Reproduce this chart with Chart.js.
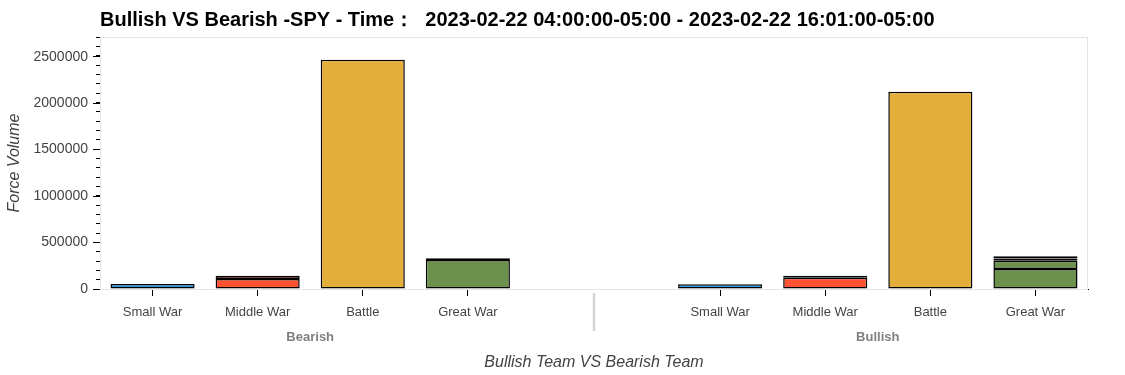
<!DOCTYPE html>
<html>
<head>
<meta charset="utf-8">
<script src="https://cdn.jsdelivr.net/npm/chart.js@4.4.0/dist/chart.umd.min.js"></script>
<style>
    html, body { margin: 0; padding: 0; background: #FFFFFF; }
    #wrap { width: 1125px; height: 375px; }
</style>
</head>
<body>
<div id="wrap"><canvas id="chart" width="1125" height="375"></canvas></div>
<script>
/* Bullish VS Bearish — stacked force volume per war size */

const TITLE = 'Bullish VS Bearish -SPY - Time：  2023-02-22 04:00:00-05:00 - 2023-02-22 16:01:00-05:00';

const groups = ['Bearish', 'Bullish'];
const categories = ['Small War', 'Middle War', 'Battle', 'Great War',
                    'Small War', 'Middle War', 'Battle', 'Great War'];

// stacked segments, bottom to top (null = no segment)
const layer1 = [54000, 108000, 2468000, 312000, 51000, 122000, 2123000, 216000];
const layer2 = [null, 35000, null, 19000, null, 21000, null, 89000];
const layer3 = [null, null, null, null, null, null, null, 22000];
const layer4 = [null, null, null, null, null, null, null, 25000];

const yTicks = [0, 500000, 1000000, 1500000, 2000000, 2500000];
const yMax = 2712000;

const Colors = {
    war: ['#2B9FD8', '#FF5233', '#E3AE3A', '#6C914D'],
    text: '#444444',
    group: '#7F7F7F',
    outline: '#E5E5E5',
    separator: '#D4D4D4',
};

const FONT = '"Liberation Sans", Arial, Helvetica, sans-serif';

// nested factor layout: 4 bars, group padding 1.4, 4 bars
const GROUP_PAD = 1.4;
const positions = categories.map((_, i) => i < 4 ? i + 0.5 : i + 0.5 + GROUP_PAD);
const groupCenters = [2, 6 + GROUP_PAD];
const separatorAt = 4 + GROUP_PAD / 2;
const xMax = 8 + GROUP_PAD;

function toPoints(values) {
    return values.map((v, i) => ({ x: positions[i], y: v }));
}

function layerDataset(values) {
    return {
        data: toPoints(values),
        backgroundColor: positions.map((_, i) => Colors.war[i % 4]),
        borderColor: '#000000',
        borderWidth: 1.5,
        borderSkipped: false,
        barPercentage: 0.8,
        categoryPercentage: 1.0,
    };
}

const framePlugin = {
    id: 'frame',
    beforeDatasetsDraw(chart) {
        const { ctx, chartArea } = chart;
        ctx.save();
        ctx.strokeStyle = Colors.outline;
        ctx.lineWidth = 1;
        ctx.strokeRect(chartArea.left + 0.5, chartArea.top + 0.5,
            chartArea.right - chartArea.left - 1, chartArea.bottom - chartArea.top);
        ctx.restore();
    },
    afterDraw(chart) {
        const { ctx, chartArea } = chart;
        const x = Math.round(chart.scales.x.getPixelForValue(separatorAt));
        ctx.save();
        ctx.strokeStyle = Colors.separator;
        ctx.lineWidth = 2.5;
        ctx.beginPath();
        ctx.moveTo(x, chartArea.bottom + 4);
        ctx.lineTo(x, chartArea.bottom + 42);
        ctx.stroke();
        ctx.restore();
    },
};

new Chart(document.getElementById('chart'), {
    type: 'bar',
    data: {
        datasets: [layer1, layer2, layer3, layer4].map(layerDataset),
    },
    options: {
        responsive: false,
        animation: false,
        layout: { padding: { left: 0, right: 37, top: 0, bottom: 0 } },
        plugins: {
            legend: { display: false },
            tooltip: { enabled: false },
            title: {
                display: true,
                text: TITLE,
                align: 'start',
                fullSize: false,
                color: '#000000',
                font: { family: FONT, size: 20, weight: 'bold' },
                padding: { top: 8, bottom: 5 },
            },
        },
        scales: {
            x: {
                type: 'linear',
                stacked: true,
                offset: false,
                min: 0,
                max: xMax,
                weight: 0,
                afterBuildTicks: (scale) => { scale.ticks = positions.map((v) => ({ value: v })); },
                afterFit: (scale) => { scale.height = 28; },
                ticks: {
                    autoSkip: false,
                    maxRotation: 0,
                    padding: 9,
                    color: Colors.text,
                    font: { family: FONT, size: 13 },
                    callback: (v, i) => categories[i],
                },
                grid: { offset: false, drawOnChartArea: false, tickLength: 7, tickColor: '#000000' },
                border: { color: '#000000' },
            },
            x2: {
                type: 'linear',
                position: 'bottom',
                offset: false,
                min: 0,
                max: xMax,
                weight: 1,
                afterBuildTicks: (scale) => { scale.ticks = groupCenters.map((v) => ({ value: v })); },
                afterFit: (scale) => { scale.height = 58; },
                ticks: {
                    autoSkip: false,
                    maxRotation: 0,
                    padding: 13,
                    color: Colors.group,
                    font: { family: FONT, size: 13, weight: 'bold' },
                    callback: (v, i) => groups[i],
                },
                grid: { display: false, drawTicks: false },
                border: { display: false },
                title: {
                    display: true,
                    text: 'Bullish Team VS Bearish Team',
                    color: Colors.text,
                    font: { family: FONT, size: 16, style: 'italic' },
                    padding: { top: 3, bottom: 3 },
                },
            },
            y: {
                stacked: true,
                min: 0,
                max: yMax,
                weight: 1,
                afterBuildTicks: (scale) => { scale.ticks = yTicks.map((v) => ({ value: v })); },
                afterFit: (scale) => { scale.width = 100; },
                ticks: {
                    padding: 5,
                    color: Colors.text,
                    font: { family: FONT, size: 14 },
                    callback: (v) => String(v),
                },
                grid: { drawOnChartArea: false, tickLength: 7, tickColor: '#000000' },
                border: { color: '#000000' },
                title: {
                    display: true,
                    text: 'Force Volume',
                    color: Colors.text,
                    font: { family: FONT, size: 16, style: 'italic' },
                    padding: { top: 5, bottom: 5 },
                },
            },
            yMinor: {
                position: 'left',
                min: 0,
                max: yMax,
                weight: 0,
                ticks: { display: false, stepSize: 100000, includeBounds: false },
                afterFit: (scale) => { scale.width = 0; },
                grid: { drawOnChartArea: false, tickLength: 4, tickColor: '#000000' },
                border: { display: false },
            },
        },
    },
    plugins: [framePlugin],
});
</script>
</body>
</html>
